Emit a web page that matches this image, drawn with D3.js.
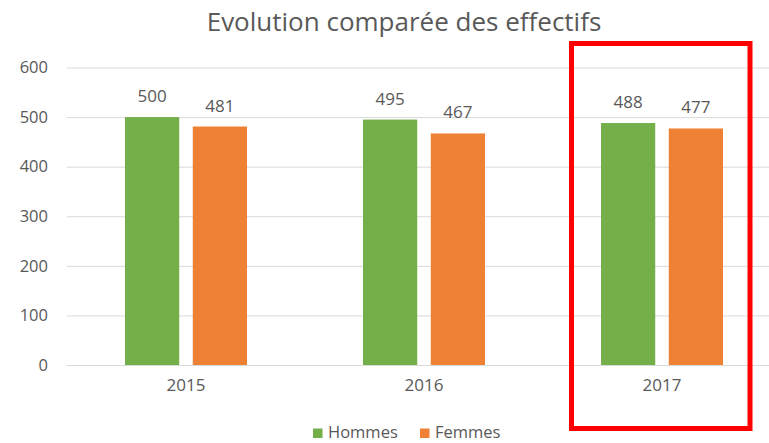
<!DOCTYPE html>
<html>
<head>
<meta charset="utf-8">
<script src="https://cdn.jsdelivr.net/npm/d3@7"></script>
<style>
  body { margin: 0; background: #fff; }
  text { font-family: "Open Sans", "Liberation Sans", sans-serif; fill: #595959; }
</style>
</head>
<body>
<script>
// data
const years = ['2015', '2016', '2017'];
const series = ['Hommes', 'Femmes'];
const hommes = [500, 495, 488];
const femmes = [481, 467, 477];
const yTicks = [0, 100, 200, 300, 400, 500, 600];
const colors = ['#74AF4A', '#EE8133'];
const highlighted = '2017';

let w = 769;
let h = 443;
let svg = d3.select('body').append('svg')
  .attr('width', w)
  .attr('height', h);

// scales
let x0 = d3.scaleBand()
  .domain(years)
  .range([67, 781]);
let x1 = d3.scaleBand()
  .domain(series)
  .range([58, 180])
  .paddingInner(0.2);
let y = d3.scaleLinear()
  .domain([0, 600])
  .range([365, 67.5]);

// title
svg.append('text')
  .attr('x', 404)
  .attr('y', 31)
  .attr('text-anchor', 'middle')
  .style('font-size', '26px')
  .text('Evolution comparée des effectifs');

// gridlines + y labels
let yAxis = svg.append('g')
  .attr('transform', 'translate(67,0)')
  .call(d3.axisLeft(y).tickValues(yTicks).tickSize(-(w - 67)).tickPadding(19));
yAxis.select('.domain').remove();
yAxis.selectAll('line').attr('stroke', '#D9D9D9').attr('stroke-width', 1);
yAxis.selectAll('text')
  .attr('fill', '#595959')
  .style('font-size', '16.5px')
  .style('font-family', '"Open Sans", "Liberation Sans", sans-serif');

// x labels
let xAxis = svg.append('g')
  .attr('transform', 'translate(0,365)')
  .call(d3.axisBottom(x0).tickSize(0).tickPadding(14));
xAxis.select('.domain').remove();
xAxis.selectAll('text')
  .attr('fill', '#595959')
  .style('font-size', '17px')
  .style('font-family', '"Open Sans", "Liberation Sans", sans-serif');

// bars
let rows = years.map((yr, i) => ({ year: yr, values: [hommes[i], femmes[i]] }));
let groups = svg.selectAll('.group')
  .data(rows)
  .enter()
    .append('g')
    .attr('transform', d => `translate(${x0(d.year)},0)`);

groups.selectAll('rect')
  .data(d => d.values.map((v, j) => ({ key: series[j], value: v, j })))
  .enter()
    .append('rect')
    .attr('x', d => x1(d.key))
    .attr('y', d => y(d.value))
    .attr('width', x1.bandwidth())
    .attr('height', d => y(0) - y(d.value))
    .attr('fill', d => colors[d.j]);

groups.selectAll('.bar-label')
  .data(d => d.values.map((v, j) => ({ key: series[j], value: v })))
  .enter()
    .append('text')
    .classed('bar-label', true)
    .attr('x', d => x1(d.key) + x1.bandwidth() / 2)
    .attr('y', d => y(d.value) - 15)
    .attr('text-anchor', 'middle')
    .style('font-size', '17px')
    .text(d => d.value);

// red frame round the highlighted year
svg.append('rect')
  .attr('x', x0(highlighted) + x0.bandwidth() / 2 - 90.5)
  .attr('y', 43.5)
  .attr('width', 178.5)
  .attr('height', 385)
  .attr('fill', 'none')
  .attr('stroke', '#FF0000')
  .attr('stroke-width', 5);

// legend
let legend = svg.append('g');
let legendX = [313, 420];
series.forEach((s, i) => {
  legend.append('rect')
    .attr('x', legendX[i])
    .attr('y', 428.5)
    .attr('width', 9.5)
    .attr('height', 9.5)
    .attr('fill', colors[i]);
  legend.append('text')
    .attr('x', legendX[i] + 15)
    .attr('y', 438)
    .style('font-size', '16.5px')
    .text(s);
});
</script>
</body>
</html>
